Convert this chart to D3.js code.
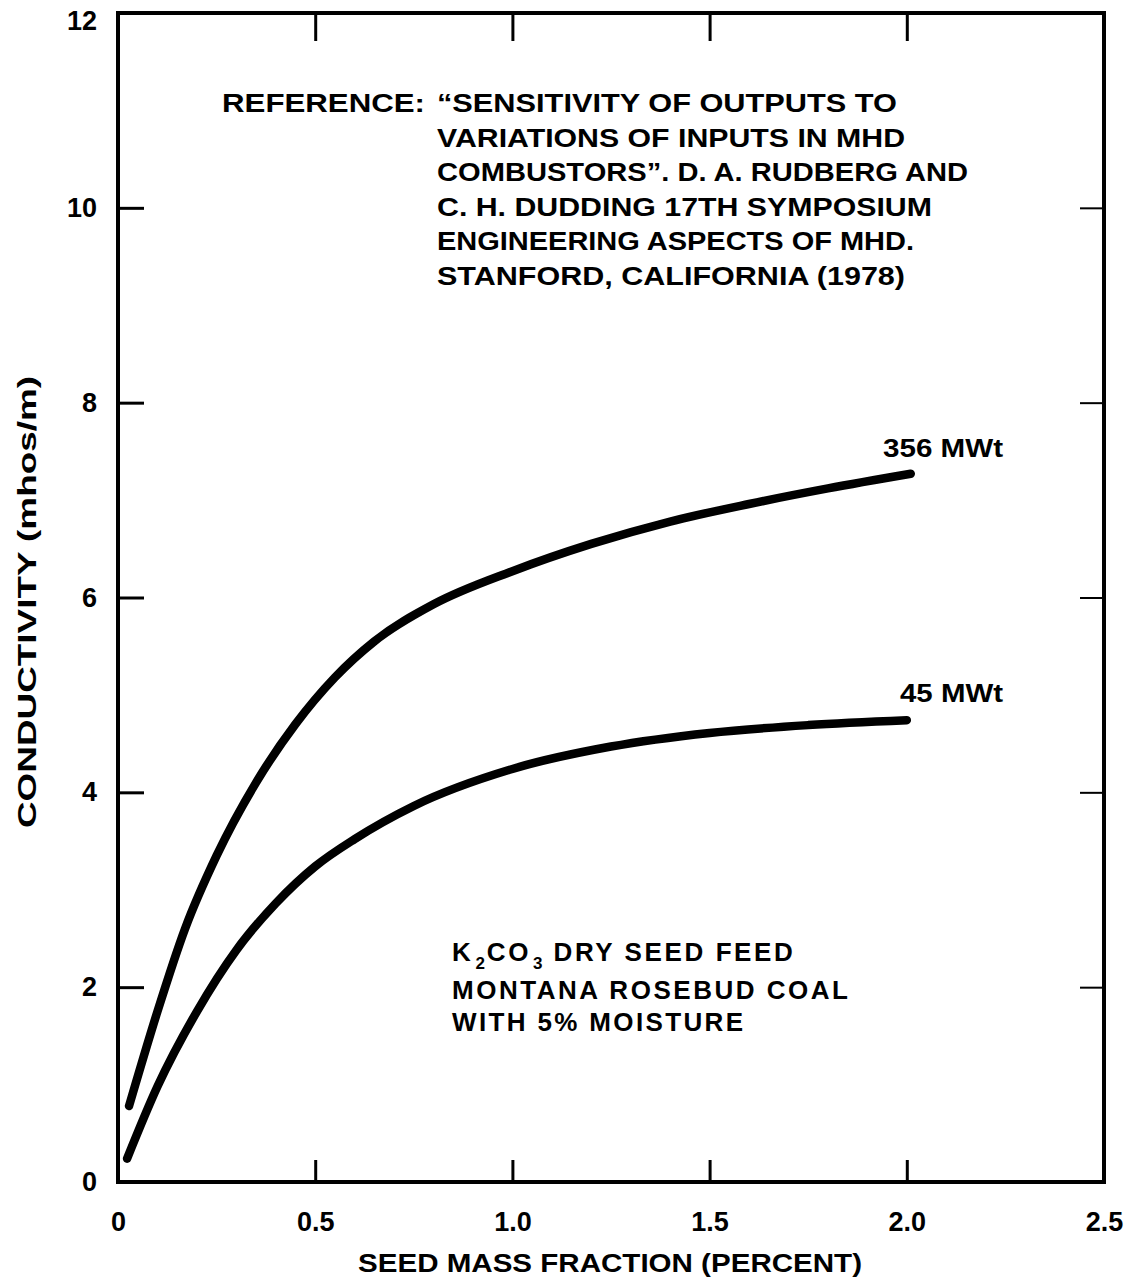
<!DOCTYPE html>
<html>
<head>
<meta charset="utf-8">
<script src="https://cdn.jsdelivr.net/npm/d3@7"></script>
<style>
  html, body { margin: 0; padding: 0; background: #fff; }
  svg { display: block; }
  text { font-family: "Liberation Sans", Arial, Helvetica, sans-serif; font-weight: bold; fill: #000; }
</style>
</head>
<body>
<div id="chart"></div>
<script>
// ---------------- data ----------------
const xTickValues = [0, 0.5, 1.0, 1.5, 2.0, 2.5];
const xTickLabels = ["0", "0.5", "1.0", "1.5", "2.0", "2.5"];
const yTickValues = [0, 2, 4, 6, 8, 10, 12];
const yTickLabels = ["0", "2", "4", "6", "8", "10", "12"];

const seriesNames = ["356 MWt", "45 MWt"];

const x356 = [0.028, 0.10, 0.17, 0.25, 0.35, 0.45, 0.55, 0.65, 0.80, 1.00, 1.20, 1.40, 1.60, 1.80, 2.01];
const y356 = [0.78, 1.75, 2.60, 3.35, 4.10, 4.70, 5.18, 5.55, 5.93, 6.27, 6.55, 6.78, 6.96, 7.12, 7.27];

const x45 = [0.023, 0.10, 0.20, 0.30, 0.40, 0.50, 0.60, 0.75, 1.00, 1.25, 1.50, 1.75, 2.00];
const y45 = [0.24, 0.98, 1.75, 2.38, 2.86, 3.24, 3.52, 3.86, 4.24, 4.47, 4.61, 4.69, 4.74];

const referenceLead = "REFERENCE:";
const referenceLines = [
  "\u201CSENSITIVITY OF OUTPUTS TO",
  "VARIATIONS OF INPUTS IN MHD",
  "COMBUSTORS\u201D.  D. A. RUDBERG AND",
  "C. H. DUDDING 17TH SYMPOSIUM",
  "ENGINEERING ASPECTS OF MHD.",
  "STANFORD, CALIFORNIA (1978)"
];
// first note line is split into pieces so the subscripts can be set apart: K, 2, CO, 3, rest
const notePieces = ["K", "2", "CO", "3", "DRY SEED FEED"];
const noteLines = ["MONTANA ROSEBUD COAL", "WITH 5% MOISTURE"];
const xTitle = "SEED MASS FRACTION (PERCENT)";
const yTitle = "CONDUCTIVITY (mhos/m)";

// ---------------- layout ----------------
const W = 1127, H = 1285;
const L = 118, R = 1104, T = 13, B = 1182;
const FONT = "Liberation Sans, Arial, sans-serif";

const svg = d3.select("#chart").append("svg").attr("width", W).attr("height", H);

const x = d3.scaleLinear().domain([0, 2.5]).range([L, R]);
const y = d3.scaleLinear().domain([0, 12]).range([B, T]);

// bottom axis (ticks inward, labels below)
const gx = svg.append("g").attr("transform", `translate(0,${B})`)
  .call(d3.axisBottom(x).tickValues(xTickValues)
    .tickFormat((d, i) => xTickLabels[i]).tickSizeInner(-22).tickSizeOuter(0).tickPadding(30));
gx.select(".domain").remove();
gx.selectAll(".tick line").attr("stroke", "#000").attr("stroke-width", 3)
  .filter(d => d === 0 || d === 2.5).remove();
gx.selectAll(".tick text").attr("font-size", 27).attr("font-family", FONT).attr("font-weight", "bold");

// left axis
const gy = svg.append("g").attr("transform", `translate(${L},0)`)
  .call(d3.axisLeft(y).tickValues(yTickValues)
    .tickFormat((d, i) => yTickLabels[i]).tickSizeInner(-26).tickSizeOuter(0).tickPadding(21));
gy.select(".domain").remove();
gy.selectAll(".tick line").attr("stroke", "#000").attr("stroke-width", 3)
  .filter(d => d === 0 || d === 12).remove();
gy.selectAll(".tick text").attr("font-size", 27).attr("font-family", FONT).attr("font-weight", "bold");
gy.selectAll(".tick text").filter(d => d === 12).attr("y", 8);

// top axis (ticks only)
const gt = svg.append("g").attr("transform", `translate(0,${T})`)
  .call(d3.axisTop(x).tickValues([0.5, 1.0, 1.5, 2.0]).tickFormat("").tickSizeInner(-28).tickSizeOuter(0));
gt.select(".domain").remove();
gt.selectAll(".tick line").attr("stroke", "#000").attr("stroke-width", 3);

// right axis (ticks only)
const gr = svg.append("g").attr("transform", `translate(${R},0)`)
  .call(d3.axisRight(y).tickValues([2, 4, 6, 8, 10]).tickFormat("").tickSizeInner(-24).tickSizeOuter(0));
gr.select(".domain").remove();
gr.selectAll(".tick line").attr("stroke", "#000").attr("stroke-width", 2);

// frame
svg.append("rect").attr("x", L).attr("y", T).attr("width", R - L).attr("height", B - T)
  .attr("fill", "none").attr("stroke", "#000").attr("stroke-width", 4);

// curves
const line = d3.line().x(d => x(d[0])).y(d => y(d[1])).curve(d3.curveMonotoneX);
const series = [
  { name: seriesNames[0], pts: x356.map((v, i) => [v, y356[i]]) },
  { name: seriesNames[1], pts: x45.map((v, i) => [v, y45[i]]) }
];
svg.selectAll("path.curve").data(series).enter().append("path")
  .attr("class", "curve")
  .attr("d", d => line(d.pts))
  .attr("fill", "none").attr("stroke", "#000").attr("stroke-width", 8.5)
  .attr("stroke-linecap", "round").attr("stroke-linejoin", "round");

// curve labels
svg.append("text").attr("x", 883).attr("y", 457).attr("font-size", 25)
  .attr("textLength", 120).attr("lengthAdjust", "spacingAndGlyphs").text(seriesNames[0]);
svg.append("text").attr("x", 900).attr("y", 702).attr("font-size", 25)
  .attr("textLength", 103).attr("lengthAdjust", "spacingAndGlyphs").text(seriesNames[1]);

// reference block
const refLens = [460, 468, 531, 495, 477, 468];
svg.append("text").attr("x", 222).attr("y", 112).attr("font-size", 25)
  .attr("textLength", 203).attr("lengthAdjust", "spacingAndGlyphs").text(referenceLead);
referenceLines.forEach((t, i) => {
  svg.append("text").attr("x", 437).attr("y", 112 + i * 34.6).attr("font-size", 25)
    .attr("textLength", refLens[i]).attr("lengthAdjust", "spacingAndGlyphs").text(t);
});

// note block: K2CO3 pieces laid out one after another
let cx = 452;
notePieces.forEach((t, i) => {
  const sub = (i === 1 || i === 3);
  if (i === 4) cx += 9;
  const el = svg.append("text").attr("x", cx).attr("y", sub ? 969 : 961)
    .attr("font-size", sub ? 17 : 26).attr("letter-spacing", sub ? 0 : 2.6).text(t);
  cx += el.node().getBBox().width + 2;
});
svg.append("text").attr("x", 452).attr("y", 999).attr("font-size", 26)
  .attr("textLength", 396).attr("lengthAdjust", "spacing").text(noteLines[0]);
svg.append("text").attr("x", 452).attr("y", 1031).attr("font-size", 26)
  .attr("textLength", 291).attr("lengthAdjust", "spacing").text(noteLines[1]);

// axis titles
svg.append("text").attr("x", 358).attr("y", 1272).attr("font-size", 25)
  .attr("textLength", 504).attr("lengthAdjust", "spacingAndGlyphs").text(xTitle);
svg.append("text").attr("transform", "translate(36,828) rotate(-90)")
  .attr("font-size", 25).attr("textLength", 452).attr("lengthAdjust", "spacingAndGlyphs").text(yTitle);
</script>
</body>
</html>
